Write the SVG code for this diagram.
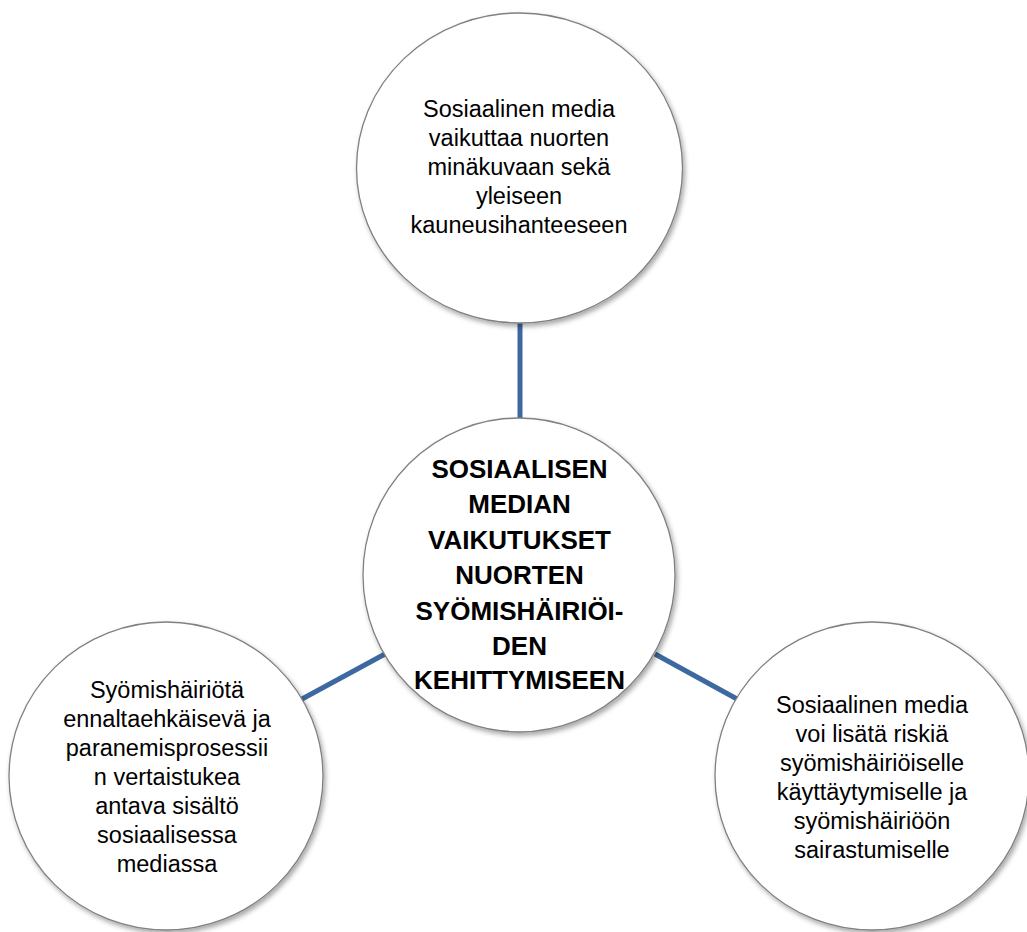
<svg xmlns="http://www.w3.org/2000/svg" width="1027" height="932" viewBox="0 0 1027 932">
<defs>
<filter id="sh" x="-10%" y="-10%" width="125%" height="125%">
<feDropShadow dx="2" dy="3" stdDeviation="2.5" flood-color="#000" flood-opacity="0.35"/>
</filter>
<style>
.node{fill:#fff;stroke:#808080;stroke-width:1.3;filter:url(#sh)}
.t{font-family:"Liberation Sans",Arial,sans-serif;font-size:23.5px;fill:#000;text-anchor:middle}
.b{font-family:"Liberation Sans",Arial,sans-serif;font-size:26px;font-weight:bold;fill:#000;text-anchor:middle}
.c{stroke:#3d69a0;stroke-width:5;fill:none}
</style>
</defs>
<rect width="1027" height="932" fill="#fff"/>
<g id="connectors">
<line class="c" x1="520" y1="322" x2="520" y2="419"/>
<line class="c" x1="302" y1="699" x2="385" y2="654"/>
<line class="c" x1="655" y1="654" x2="737" y2="699"/>
</g>
<g id="node-top">
<ellipse class="node" cx="519.5" cy="168" rx="163" ry="155"/>
<text class="t" x="519" y="117">Sosiaalinen media</text>
<text class="t" x="519" y="146">vaikuttaa nuorten</text>
<text class="t" x="519" y="175">minäkuvaan sekä</text>
<text class="t" x="519" y="204">yleiseen</text>
<text class="t" x="519" y="233">kauneusihanteeseen</text>
</g>
<g id="node-center">
<ellipse class="node" cx="519" cy="575" rx="156" ry="157"/>
<text class="b" x="519.5" y="478">SOSIAALISEN</text>
<text class="b" x="519.5" y="513">MEDIAN</text>
<text class="b" x="519.5" y="549">VAIKUTUKSET</text>
<text class="b" x="519.5" y="584">NUORTEN</text>
<text class="b" x="519.5" y="620">SYÖMISHÄIRIÖI-</text>
<text class="b" x="519.5" y="655">DEN</text>
<text class="b" x="519.5" y="689">KEHITTYMISEEN</text>
</g>
<g id="node-left">
<ellipse class="node" cx="166" cy="776" rx="157" ry="154"/>
<text class="t" x="167" y="698">Syömishäiriötä</text>
<text class="t" x="167" y="727">ennaltaehkäisevä ja</text>
<text class="t" x="167" y="756">paranemisprosessii</text>
<text class="t" x="167" y="785">n vertaistukea</text>
<text class="t" x="167" y="814">antava sisältö</text>
<text class="t" x="167" y="843">sosiaalisessa</text>
<text class="t" x="167" y="872">mediassa</text>
</g>
<g id="node-right">
<ellipse class="node" cx="872" cy="776" rx="157" ry="154"/>
<text class="t" x="872" y="713">Sosiaalinen media</text>
<text class="t" x="872" y="742">voi lisätä riskiä</text>
<text class="t" x="872" y="771">syömishäiriöiselle</text>
<text class="t" x="872" y="800">käyttäytymiselle ja</text>
<text class="t" x="872" y="829">syömishäiriöön</text>
<text class="t" x="872" y="858">sairastumiselle</text>
</g>
</svg>
